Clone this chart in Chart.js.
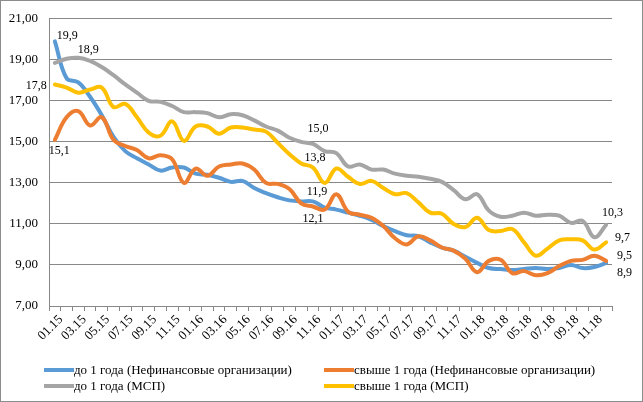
<!DOCTYPE html>
<html>
<head>
  <title>Ставки по кредитам</title>
  <style>
    body { margin: 0; padding: 0; background: #fff; }
    #wrap { position: relative; width: 643px; height: 402px; }
    #chart { position: absolute; left: 0; top: 0; }
    .legend { position: absolute; left: 44px; top: 362px; font-family: "Liberation Serif", serif; font-size: 13px; color: #000; display: grid; grid-template-columns: 280px 300px; }
    .legend div { display: flex; align-items: center; height: 16px; white-space: nowrap; }
    .legend span.line { display: inline-block; width: 30px; height: 4px; }
  </style>
</head>
<body>

<div id="wrap">
  <canvas id="chart" width="643" height="402"></canvas>
  <div class="legend" id="legend"></div>
</div>

<script src="https://cdn.jsdelivr.net/npm/chart.js"></script>
<script>
// months 01.15 .. 12.18
const months = [
  '01.15', '02.15', '03.15', '04.15', '05.15', '06.15', '07.15', '08.15', '09.15', '10.15', '11.15', '12.15',
  '01.16', '02.16', '03.16', '04.16', '05.16', '06.16', '07.16', '08.16', '09.16', '10.16', '11.16', '12.16',
  '01.17', '02.17', '03.17', '04.17', '05.17', '06.17', '07.17', '08.17', '09.17', '10.17', '11.17', '12.17',
  '01.18', '02.18', '03.18', '04.18', '05.18', '06.18', '07.18', '08.18', '09.18', '10.18', '11.18', '12.18'
];

const shortNonfin = [
  19.9, 18.1, 17.9, 17.2, 16.3, 15.25, 14.55, 14.2, 13.9, 13.6, 13.75, 13.75,
  13.45, 13.4, 13.25, 13.05, 13.1, 12.75, 12.5, 12.3, 12.15, 12.1, 12.1, 11.8,
  11.7, 11.55, 11.4, 11.2, 10.9, 10.65, 10.45, 10.4, 10.1, 9.85, 9.7, 9.4,
  9.1, 8.85, 8.8, 8.75, 8.8, 8.85, 8.8, 8.85, 9.0, 8.85, 8.9, 9.1
];
const longNonfin = [
  15.1, 16.2, 16.5, 15.8, 16.2, 15.1, 14.8, 14.6, 14.2, 14.35, 14.15, 13.0,
  13.7, 13.35, 13.8, 13.9, 13.95, 13.65, 13.0, 12.95, 12.7, 12.0, 11.85, 11.7,
  12.45, 11.6, 11.45, 11.3, 10.9, 10.3, 10.0, 10.4, 10.2, 9.85, 9.7, 9.3,
  8.65, 9.2, 9.25, 8.6, 8.7, 8.5, 8.6, 8.95, 9.2, 9.25, 9.45, 9.2
];
const shortSme = [
  18.85, 19.05, 19.1, 18.95, 18.65, 18.25, 17.8, 17.4, 17.0, 16.95, 16.75, 16.45,
  16.45, 16.4, 16.2, 16.35, 16.3, 16.05, 15.75, 15.55, 15.2, 15.0, 14.9, 14.55,
  14.45, 13.8, 13.9, 13.65, 13.65, 13.45, 13.35, 13.3, 13.2, 13.05, 12.65, 12.2,
  12.45, 11.65, 11.35, 11.4, 11.55, 11.4, 11.45, 11.4, 11.05, 11.15, 10.35, 10.95
];
const longSme = [
  17.8, 17.65, 17.4, 17.55, 17.65, 16.7, 16.85, 16.2, 15.45, 15.3, 16.0, 15.05,
  15.75, 15.75, 15.4, 15.7, 15.7, 15.6, 15.5, 14.95, 14.4, 13.95, 13.75, 13.0,
  13.7, 13.3, 12.95, 13.1, 12.75, 12.45, 12.5, 12.05, 11.55, 11.5, 11.0, 10.85,
  11.3, 10.7, 10.65, 10.75, 10.1, 9.45, 9.8, 10.2, 10.25, 10.2, 9.75, 10.1
];

const seriesNames = [
  'до 1 года (Нефинансовые организации)',
  'свыше 1 года (Нефинансовые организации)',
  'до 1 года (МСП)',
  'свыше 1 года (МСП)'
];
const seriesColors = ['#5B9BD5', '#ED7D31', '#A5A5A5', '#FFC000'];
const yTicks = [7, 9, 11, 13, 15, 17, 19, 21];

// value labels: [dataset, month index, text]
const valueNotes = [
  [0, 0, '19,9'], [2, 0, '18,9'], [3, 0, '17,8'], [1, 0, '15,1'],
  [2, 22, '15,0'], [3, 22, '13,8'], [1, 22, '11,9'], [0, 22, '12,1'],
  [2, 46, '10,3'], [3, 46, '9,7'], [1, 46, '9,5'], [0, 46, '8,9']
];
// where each label sits relative to its point: [dx, dy, align]
const noteOffsets = [
  [2, -6, 'left'], [23, -13, 'left'], [-8, 1, 'right'], [-6, 11, 'left'],
  [5, -15, 'center'], [2, -10, 'center'], [4, -15, 'center'], [0, 17, 'center'],
  [18, -24, 'center'], [28, -12, 'center'], [30, 0, 'center'], [30, 6, 'center']
];

const allSeries = [shortNonfin, longNonfin, shortSme, longSme];

const datasets = allSeries.map((vals, i) => ({
  label: seriesNames[i],
  data: vals,
  borderColor: seriesColors[i],
  backgroundColor: seriesColors[i],
  borderWidth: 4,
  pointRadius: 0,
  tension: 0.4,
  fill: false,
  borderCapStyle: 'round',
  borderJoinStyle: 'round',
  order: 4 - i
}));

const frame = {
  id: 'frame',
  afterDraw(chart) {
    const ctx = chart.ctx;
    ctx.save();
    ctx.strokeStyle = '#8c8c8c';
    ctx.lineWidth = 1;
    ctx.strokeRect(0.5, 0.5, chart.width - 1, chart.height - 1);
    ctx.restore();
  }
};

const notes = {
  id: 'notes',
  afterDatasetsDraw(chart) {
    const ctx = chart.ctx;
    ctx.save();
    ctx.font = '12px "Liberation Serif"';
    ctx.fillStyle = '#000';
    ctx.textBaseline = 'middle';
    valueNotes.forEach((n, k) => {
      const pt = chart.getDatasetMeta(n[0]).data[n[1]];
      const off = noteOffsets[k];
      ctx.textAlign = off[2];
      ctx.fillText(n[2], pt.x + off[0], pt.y + off[1]);
    });
    ctx.restore();
  }
};

new Chart(document.getElementById('chart').getContext('2d'), {
  type: 'line',
  data: { labels: months, datasets: datasets },
  options: {
    responsive: false,
    animation: false,
    layout: { padding: { left: 0, right: 31, top: 12, bottom: 0 } },
    plugins: { legend: { display: false }, tooltip: { enabled: false } },
    scales: {
      x: {
        offset: true,
        grid: { offset: true, drawOnChartArea: false, drawTicks: true, tickLength: 5, color: '#888' },
        border: { display: true, color: '#888' },
        ticks: {
          autoSkip: false, maxRotation: 45, minRotation: 45, padding: 1, labelOffset: 6,
          color: '#000', font: { family: 'Liberation Serif', size: 13 },
          callback: (v, i) => (i % 2 === 0 ? months[i] : '')
        },
        afterFit(scale) { scale.height = 96; }
      },
      y: {
        min: 7, max: 21,
        afterBuildTicks(scale) { scale.ticks = yTicks.map(v => ({ value: v })); },
        grid: { color: '#888', drawTicks: false },
        border: { display: true, color: '#888' },
        ticks: {
          padding: 11, color: '#000', font: { family: 'Liberation Serif', size: 13 },
          callback: v => v.toFixed(2).replace('.', ',')
        },
        afterFit(scale) { scale.width = 49; }
      }
    }
  },
  plugins: [frame, notes]
});

// legend as plain text under the plot
const legend = document.getElementById('legend');
seriesNames.forEach((name, i) => {
  const item = document.createElement('div');
  item.innerHTML = '<span class="line" style="background:' + seriesColors[i] + '"></span>' + name;
  legend.appendChild(item);
});
</script>

</body>
</html>
